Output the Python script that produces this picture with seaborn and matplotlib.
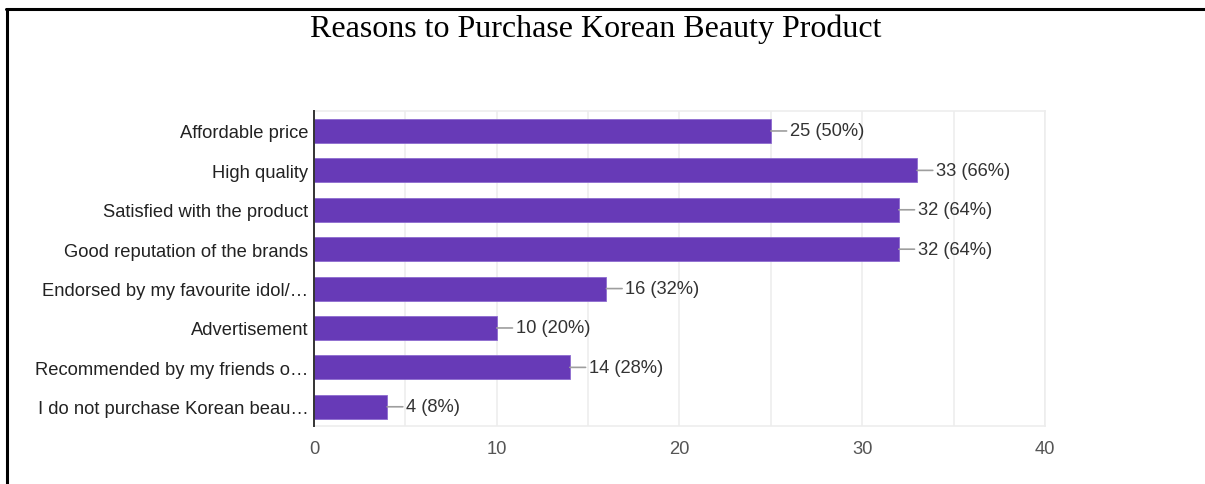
import matplotlib
matplotlib.use("Agg")
import matplotlib.pyplot as plt
from matplotlib.lines import Line2D
import seaborn as sns
import pandas as pd

categories = [
    "Affordable price",
    "High quality",
    "Satisfied with the product",
    "Good reputation of the brands",
    "Endorsed by my favourite idol/…",
    "Advertisement",
    "Recommended by my friends o…",
    "I do not purchase Korean beau…",
]
counts = [25, 33, 32, 32, 16, 10, 14, 4]
percents = [50, 66, 64, 64, 32, 20, 28, 8]
x_ticks = [0, 10, 20, 30, 40]

df = pd.DataFrame({"reason": categories, "count": counts})

sns.set_style("white")
plt.rcParams["font.family"] = ["Liberation Sans", "DejaVu Sans"]

fig = plt.figure(figsize=(12.05, 4.85), dpi=100)
ax = fig.add_axes([0.2606, 0.1186, 0.6066, 0.6499])

bar_color = "#673ab7"
sns.barplot(data=df, x="count", y="reason", orient="h", color=bar_color,
            saturation=1, width=0.61, ax=ax, edgecolor="#8e6bd0", linewidth=0.6)

ax.set_xlim(0, 40)
ax.set_ylim(len(categories) - 0.5, -0.5)

# light vertical grid every 5 units
for gx in range(5, 41, 5):
    ax.axvline(gx, color="#ededed", lw=1.2, zorder=0)
ax.set_axisbelow(True)

for side in ["top", "bottom", "right"]:
    ax.spines[side].set_color("#ededed")
    ax.spines[side].set_linewidth(1.2)
ax.spines["left"].set_color("#333333")
ax.spines["left"].set_linewidth(1.4)
ax.spines["left"].set_zorder(5)

label_size = 13.2
ax.set_xticks(x_ticks)
ax.set_xticklabels([str(t) for t in x_ticks])
ax.tick_params(axis="x", length=0, pad=10, labelsize=label_size, labelcolor="#555555")
ax.tick_params(axis="y", length=0, pad=4, labelsize=label_size, labelcolor="#222222")
ax.set_xlabel("")
ax.set_ylabel("")

# value labels with a short leader line
for i, (c, p) in enumerate(zip(counts, percents)):
    ax.annotate(f"{c} ({p}%)", xy=(c, i), xytext=(19, 0),
                textcoords="offset pixels", va="center", ha="left",
                fontsize=label_size, color="#333333",
                arrowprops=dict(arrowstyle="-", color="#9e9e9e", lw=1.2,
                                shrinkA=0, shrinkB=0))

fig.text(0.4946, 0.94, "Reasons to Purchase Korean Beauty Product",
         ha="center", va="center", fontsize=23,
         family=["Liberation Serif", "DejaVu Serif"], color="black")

# frame lines along the top and left edges
fig.add_artist(Line2D([6 / 1205, 1.0], [1 - 9.5 / 485, 1 - 9.5 / 485],
                      transform=fig.transFigure, color="black", lw=2.2))
fig.add_artist(Line2D([6.5 / 1205, 6.5 / 1205], [0.0, 1 - 9.5 / 485],
                      transform=fig.transFigure, color="black", lw=2.2))

fig.savefig("out.png", dpi=100, facecolor="white")
